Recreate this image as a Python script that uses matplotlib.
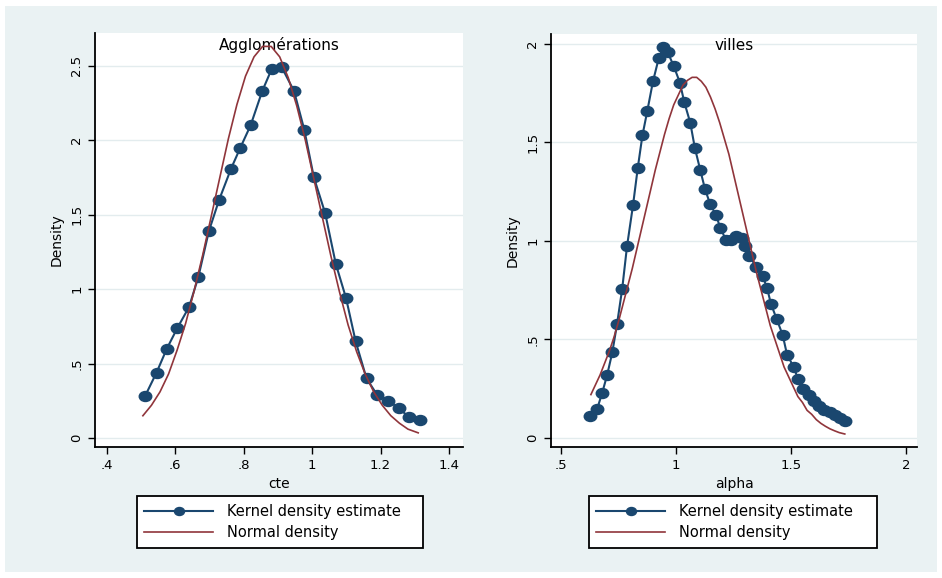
import matplotlib
matplotlib.use("Agg")
import matplotlib.pyplot as plt
from matplotlib.path import Path
from matplotlib.patches import Rectangle
#
# values
cte_kde_x = [0.511, 0.545, 0.575, 0.606, 0.640, 0.667, 0.698, 0.728, 0.763,
             0.790, 0.820, 0.854, 0.882, 0.911, 0.947, 0.977, 1.005, 1.038,
             1.069, 1.099, 1.127, 1.159, 1.190, 1.222, 1.254, 1.283, 1.314]
cte_kde_y = [0.28, 0.44, 0.60, 0.74, 0.88, 1.08, 1.39, 1.60, 1.81,
             1.95, 2.10, 2.33, 2.48, 2.49, 2.33, 2.07, 1.75, 1.51,
             1.17, 0.94, 0.65, 0.40, 0.29, 0.25, 0.20, 0.14, 0.12]
cte_norm_x = [0.505, 0.53, 0.555, 0.58, 0.605, 0.63, 0.655, 0.68, 0.705,
              0.73, 0.755, 0.78, 0.805, 0.83, 0.855, 0.88, 0.905, 0.93,
              0.955, 0.98, 1.005, 1.03, 1.055, 1.08, 1.105, 1.13, 1.155,
              1.18, 1.205, 1.23, 1.255, 1.28, 1.31]
cte_norm_y = [0.15, 0.22, 0.31, 0.43, 0.59, 0.77, 0.99, 1.23, 1.49,
              1.75, 2.01, 2.24, 2.43, 2.56, 2.63, 2.63, 2.56, 2.42,
              2.23, 2.00, 1.74, 1.48, 1.22, 0.98, 0.76, 0.58, 0.43,
              0.31, 0.22, 0.15, 0.10, 0.06, 0.035]
#
alpha_kde_x = [0.628, 0.657, 0.679, 0.701, 0.723, 0.744, 0.766, 0.787, 0.813,
               0.834, 0.854, 0.875, 0.900, 0.925, 0.945, 0.964, 0.990, 1.017,
               1.036, 1.062, 1.082, 1.105, 1.126, 1.148, 1.174, 1.193, 1.217,
               1.239, 1.261, 1.286, 1.300, 1.318, 1.348, 1.377, 1.396, 1.413,
               1.438, 1.464, 1.483, 1.512, 1.530, 1.551, 1.577, 1.600, 1.620,
               1.644, 1.668, 1.690, 1.712, 1.734]
alpha_kde_y = [0.110, 0.147, 0.228, 0.321, 0.434, 0.580, 0.756, 0.972, 1.180,
               1.372, 1.535, 1.658, 1.810, 1.927, 1.983, 1.957, 1.888, 1.803,
               1.704, 1.600, 1.472, 1.362, 1.264, 1.188, 1.131, 1.065, 1.006,
               1.006, 1.026, 1.014, 0.975, 0.925, 0.870, 0.820, 0.761, 0.680,
               0.603, 0.522, 0.422, 0.360, 0.299, 0.248, 0.220, 0.186, 0.164,
               0.143, 0.130, 0.118, 0.101, 0.084]
alpha_norm_x = [0.63, 0.65, 0.67, 0.69, 0.71, 0.73, 0.75, 0.77, 0.79, 0.81,
                0.83, 0.85, 0.87, 0.89, 0.91, 0.93, 0.95, 0.97, 0.99, 1.01,
                1.03, 1.05, 1.07, 1.09, 1.11, 1.13, 1.15, 1.17, 1.19, 1.21,
                1.23, 1.25, 1.27, 1.29, 1.31, 1.33, 1.35, 1.37, 1.39, 1.41,
                1.43, 1.45, 1.47, 1.49, 1.51, 1.53, 1.55, 1.57, 1.59, 1.61,
                1.63, 1.65, 1.67, 1.69, 1.71, 1.734]
alpha_norm_y = [0.22, 0.27, 0.32, 0.38, 0.44, 0.51, 0.59, 0.68, 0.77, 0.86,
                0.96, 1.06, 1.16, 1.26, 1.36, 1.45, 1.54, 1.62, 1.69, 1.74,
                1.79, 1.815, 1.83, 1.83, 1.81, 1.78, 1.73, 1.67, 1.60, 1.52,
                1.44, 1.34, 1.24, 1.14, 1.04, 0.94, 0.84, 0.75, 0.66, 0.57,
                0.50, 0.43, 0.36, 0.31, 0.26, 0.21, 0.18, 0.14, 0.12, 0.093,
                0.074, 0.059, 0.046, 0.036, 0.027, 0.02]
#
panel_titles = ["Agglomérations", "villes"]
x_titles = ["cte", "alpha"]
cte_xticks = [0.4, 0.6, 0.8, 1.0, 1.2, 1.4]
cte_xlabels = [".4", ".6", ".8", "1", "1.2", "1.4"]
cte_yticks = [0, 0.5, 1, 1.5, 2, 2.5]
cte_ylabels = ["0", ".5", "1", "1.5", "2", "2.5"]
alpha_xticks = [0.5, 1.0, 1.5, 2.0]
alpha_xlabels = [".5", "1", "1.5", "2"]
alpha_yticks = [0, 0.5, 1, 1.5, 2]
alpha_ylabels = ["0", ".5", "1", "1.5", "2"]
legend_labels = ["Kernel density estimate", "Normal density"]
#
NAVY = "#1a476f"
MAROON = "#90353b"
BG = "#eaf2f3"
GRID = "#e3ecee"
#
plt.rcParams['font.family'] = ['DejaVu Sans']
#
# slightly wide dots, like the stretched stata output
circ = Path.unit_circle()
dot = Path(circ.vertices * [1.25, 1.0], circ.codes)
#
fig = plt.figure(figsize=(9.42, 5.78), dpi=100, facecolor="white")
fig.patches.append(Rectangle((5 / 942, 6 / 578), 932 / 942, 566 / 578,
                             transform=fig.transFigure, facecolor=BG,
                             edgecolor="none", zorder=-10))
#
ax1 = fig.add_axes([95 / 942, 1 - 447 / 578, 368 / 942, 414 / 578])
ax2 = fig.add_axes([551 / 942, 1 - 447 / 578, 366 / 942, 413 / 578])
#
panels = [
    (ax1, cte_kde_x, cte_kde_y, cte_norm_x, cte_norm_y,
     cte_xticks, cte_xlabels, cte_yticks, cte_ylabels,
     (0.365, 1.441), (-0.06, 2.72)),
    (ax2, alpha_kde_x, alpha_kde_y, alpha_norm_x, alpha_norm_y,
     alpha_xticks, alpha_xlabels, alpha_yticks, alpha_ylabels,
     (0.4565, 2.048), (-0.046, 2.05)),
]
legend_boxes = [(137, 423), (589, 877)]
#
for i, (ax, kx, ky, nx, ny, xt, xl, yt, yl, xlim, ylim) in enumerate(panels):
    ax.set_facecolor("white")
    ax.plot(kx, ky, color=NAVY, lw=1.5, marker=dot, ms=9, mec=NAVY,
            mfc=NAVY, zorder=3, label=legend_labels[0])
    ax.plot(nx, ny, color=MAROON, lw=1.2, zorder=4, label=legend_labels[1])
    ax.set_xlim(*xlim)
    ax.set_ylim(*ylim)
    ax.set_xticks(xt)
    ax.set_xticklabels(xl, fontsize=9.5)
    ax.set_yticks(yt)
    ax.set_yticklabels(yl, fontsize=9.5, rotation=90, va="center")
    ax.tick_params(direction="out", length=5, width=1, pad=3.5)
    ax.grid(axis="y", color=GRID, lw=1, zorder=0)
    ax.set_axisbelow(True)
    for s in ["top", "right"]:
        ax.spines[s].set_visible(False)
    for s in ["left", "bottom"]:
        ax.spines[s].set_linewidth(1.3)
    ax.set_xlabel(x_titles[i], fontsize=10, labelpad=4)
    ax.set_ylabel("Density", fontsize=10, labelpad=5)
    ax.text(0.5, 0.971, panel_titles[i], transform=ax.transAxes,
            ha="center", va="center", fontsize=11, zorder=1)
    #
    x0, x1 = legend_boxes[i]
    leg = ax.legend(loc="center", mode="expand", numpoints=1,
                    bbox_to_anchor=(x0 / 942, 1 - 548 / 578,
                                    (x1 - x0) / 942, 52 / 578),
                    bbox_transform=fig.transFigure, borderaxespad=0,
                    fontsize=10.5, handlelength=4.7, handletextpad=1.0,
                    labelspacing=0.45, borderpad=0.5, fancybox=False,
                    framealpha=1, edgecolor="black", markerscale=0.8)
    leg.get_frame().set_linewidth(1.3)
#
fig.savefig("out.png", dpi=100, facecolor=fig.get_facecolor())
